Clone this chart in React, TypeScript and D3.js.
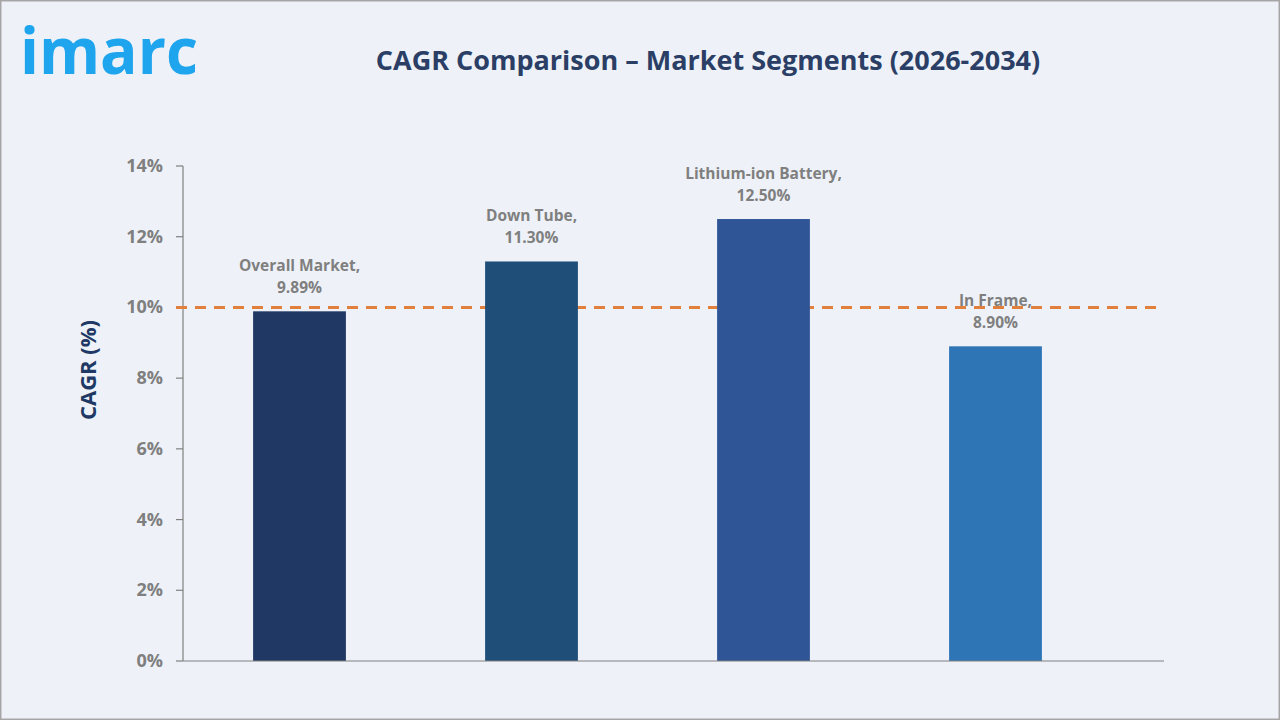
import React from "react";
import * as d3 from "d3";

const categories = ["Overall Market", "Down Tube", "Lithium-ion Battery", "In Frame"];
const cagrValues = [9.89, 11.3, 12.5, 8.9];
const barColors = ["#203864", "#1F4E79", "#2F5597", "#2E75B6"];
const yTicks = [0, 2, 4, 6, 8, 10, 12, 14];
const referenceLine = 10;

const W = 1280;
const H = 720;
const plot = { left: 183, right: 1164, top: 166, bottom: 661 };

export default function App() {
  const x = d3
    .scaleBand<string>()
    .domain(categories)
    .range([183.5, 1111.5])
    .paddingInner(0.6)
    .paddingOuter(0.3);
  const y = d3.scaleLinear().domain([0, 14]).range([plot.bottom, plot.top]);
  const font = "'Open Sans', sans-serif";

  return (
    <svg
      width={W}
      height={H}
      style={{ position: "absolute", left: 0, top: 0, fontFamily: font }}
    >
      <rect x={0} y={0} width={W} height={H} fill="#EEF2F8" />
      <rect x={0.75} y={0.75} width={W - 1.5} height={H - 1.5} fill="none" stroke="#A6A6A6" strokeWidth={1.5} />

      {/* logo */}
      <text
        x={20}
        y={74}
        fill="#1EA5EE"
        fontSize={64}
        fontWeight={700}
        textLength={178}
        lengthAdjust="spacingAndGlyphs"
      >
        imarc
      </text>

      {/* title */}
      <text x={708} y={70} textAnchor="middle" fill="#2B3F66" fontSize={27} fontWeight={700}>
        CAGR Comparison – Market Segments (2026-2034)
      </text>

      {/* y axis */}
      <line x1={plot.left} x2={plot.left} y1={plot.top} y2={plot.bottom} stroke="#7F7F7F" strokeWidth={1.2} />
      {yTicks.map((t) => (
        <g key={t}>
          <line x1={plot.left - 7} x2={plot.left} y1={y(t)} y2={y(t)} stroke="#7F7F7F" strokeWidth={1.2} />
          <text x={163} y={y(t) + 6} textAnchor="end" fill="#7F7F7F" fontSize={18} fontWeight={700}>
            {t}%
          </text>
        </g>
      ))}
      <text
        transform={`translate(96,370) rotate(-90)`}
        textAnchor="middle"
        fill="#203864"
        fontSize={22}
        fontWeight={700}
      >
        CAGR (%)
      </text>

      {/* reference line */}
      <line
        x1={plot.left - 7}
        x2={plot.right}
        y1={y(referenceLine)}
        y2={y(referenceLine)}
        stroke="#E0803C"
        strokeWidth={3}
        strokeDasharray="11,8"
      />

      {/* bars */}
      {categories.map((c, i) => (
        <rect
          key={c}
          x={x(c)}
          y={y(cagrValues[i])}
          width={x.bandwidth()}
          height={plot.bottom - y(cagrValues[i])}
          fill={barColors[i]}
        />
      ))}

      {/* x axis */}
      <line x1={plot.left} x2={plot.right} y1={plot.bottom} y2={plot.bottom} stroke="#7F7F7F" strokeWidth={1.2} />

      {/* value labels */}
      {categories.map((c, i) => {
        const cx = (x(c) ?? 0) + x.bandwidth() / 2;
        const top = y(cagrValues[i]);
        return (
          <text key={c} textAnchor="middle" fill="#7F7F7F" fontSize={15.5} fontWeight={700}>
            <tspan x={cx} y={top - 40}>{c},</tspan>
            <tspan x={cx} y={top - 18}>{cagrValues[i].toFixed(2)}%</tspan>
          </text>
        );
      })}
    </svg>
  );
}
